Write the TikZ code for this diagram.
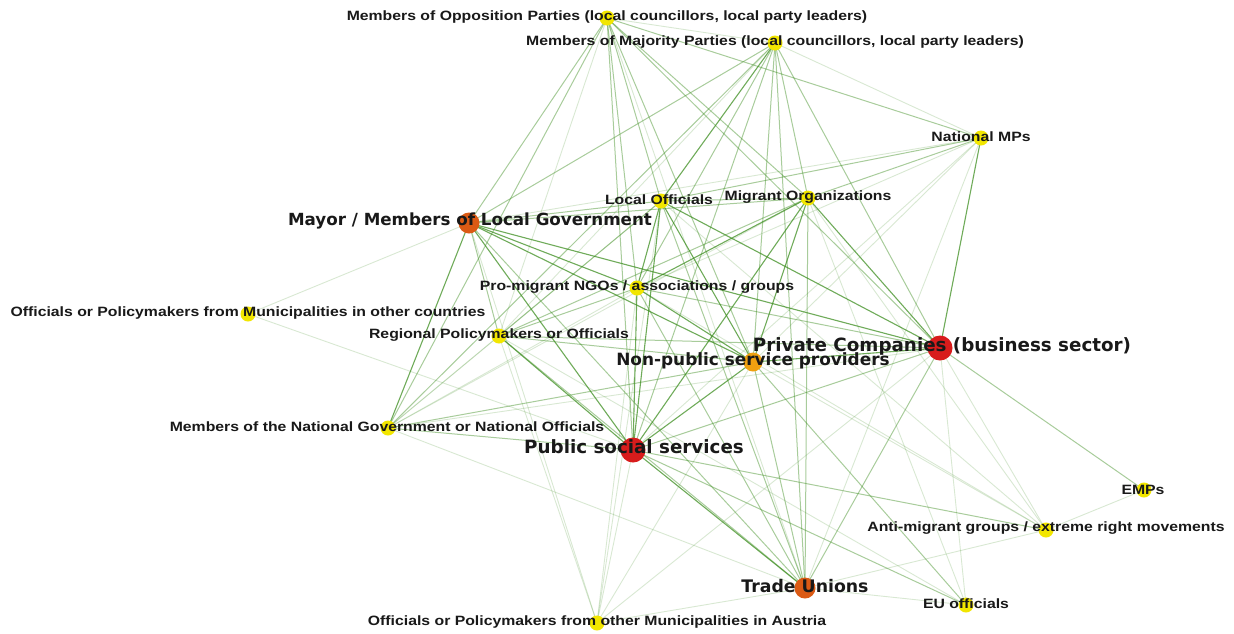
\documentclass[tikz,border=0pt]{standalone}
\usepackage{fontspec}
\newfontfamily\lblfont{Liberation Sans}[FakeStretch=1.17]
\newfontfamily\bigfont{DejaVu Sans}
\usetikzlibrary{backgrounds}
\definecolor{nyellow}{HTML}{F2E600}
\definecolor{norange}{HTML}{DB5A14}
\definecolor{namber}{HTML}{EFA010}
\definecolor{nred}{HTML}{D81C1C}
\definecolor{egreen}{HTML}{3F8F22}
\tikzset{
  vtx/.style={circle,inner sep=0pt,draw=none},
  small/.style={vtx,fill=nyellow,minimum size=15pt},
  mid/.style={vtx,fill=norange,minimum size=21pt},
  amber/.style={vtx,fill=namber,minimum size=19pt},
  large/.style={vtx,fill=nred,minimum size=25pt},
  lbl/.style={inner sep=0pt,text=black!90,font=\lblfont\bfseries\fontsize{13.5}{13.5}\selectfont},
  biglbl/.style={inner sep=0pt,text=black!90,font=\bigfont\bfseries\fontsize{#1}{#1}\selectfont},
  es/.style={draw=egreen,line width=1.1pt,opacity=0.75},
  em/.style={draw=egreen,line width=1pt,opacity=0.45},
  el/.style={draw=egreen,line width=0.9pt,opacity=0.2}
}
\begin{document}
\begin{tikzpicture}[x=1pt,y=-1pt]
\useasboundingbox (0,0) rectangle (1234,633);
% vertices
\node[small] (opp) at (607,18) {};
\node[small] (maj) at (775,43) {};
\node[small] (mps) at (981,138) {};
\node[small] (loc) at (661,201) {};
\node[small] (mig) at (808,198) {};
\node[mid]   (may) at (469,223) {};
\node[small] (ngo) at (637,288) {};
\node[small] (oth) at (248,314) {};
\node[small] (reg) at (499,336) {};
\node[large] (pri) at (940,348) {};
\node[amber] (nps) at (753,362) {};
\node[small] (nat) at (388,428) {};
\node[large] (pub) at (633,450) {};
\node[small] (emp) at (1144,490) {};
\node[small] (ant) at (1046,530) {};
\node[mid]   (tu)  at (805,588) {};
\node[small] (eu)  at (966,605) {};
\node[small] (aus) at (597,623) {};
% connections
\begin{scope}[on background layer]
\fill[white] (0,0) rectangle (1234,633);
\foreach \a/\b/\s in {
 may/opp/em, may/maj/em, may/loc/em, may/mig/em, may/ngo/es, may/reg/em, may/pri/es,
 may/nps/es, may/pub/es, may/nat/es, may/oth/el, may/tu/em, may/aus/el, may/mps/el,
 loc/opp/em, loc/maj/es, loc/mig/em, loc/ngo/es, loc/reg/em, loc/pri/es, loc/nps/es,
 loc/pub/es, loc/tu/em, loc/mps/em, loc/nat/el, loc/aus/el, loc/ant/el,
 mig/opp/em, mig/maj/em, mig/ngo/es, mig/reg/em, mig/pri/es, mig/nps/es, mig/pub/es,
 mig/tu/em, mig/mps/em, mig/nat/el, mig/ant/el, mig/eu/el,
 ngo/opp/em, ngo/maj/em, ngo/reg/em, ngo/pri/em, ngo/nps/es, ngo/pub/es, ngo/tu/em,
 ngo/mps/el, ngo/nat/el, ngo/aus/el, ngo/ant/el,
 reg/opp/el, reg/maj/el, reg/pri/em, reg/nps/em, reg/pub/es, reg/tu/em, reg/nat/el,
 reg/aus/el, reg/eu/el,
 pri/opp/em, pri/maj/em, pri/mps/es, pri/nps/es, pri/pub/em, pri/tu/em, pri/emp/em,
 pri/ant/el, pri/eu/el, pri/nat/el, pri/aus/el,
 nps/opp/em, nps/maj/em, nps/mps/el, nps/pub/es, nps/tu/em, nps/nat/em, nps/ant/el,
 nps/eu/em, nps/aus/el,
 pub/opp/em, pub/maj/em, pub/mps/el, pub/nat/em, pub/tu/es, pub/aus/el, pub/ant/em,
 pub/eu/em, pub/oth/el,
 tu/opp/el, tu/maj/em, tu/nat/el, tu/aus/el, tu/eu/el, tu/ant/el, tu/mps/el,
 opp/maj/el, opp/mps/em, opp/nat/em, maj/mps/el, maj/nat/em, ant/emp/el}
 \draw[\s] (\a.center) -- (\b.center);
\end{scope}
% labels
\node[lbl] (opp-t) at (607,17) {Members of Opposition Parties (local councillors, local party leaders)};
\node[lbl] (maj-t) at (775,42) {Members of Majority Parties (local councillors, local party leaders)};
\node[lbl] (mps-t) at (981,137) {National MPs};
\node[lbl] (loc-t) at (659,200) {Local Officials};
\node[lbl] (mig-t) at (808,197) {Migrant Organizations};
\node[biglbl=16.7] (may-t) at (470,221) {Mayor / Members of Local Government};
\node[lbl] (ngo-t) at (637,287) {Pro-migrant NGOs / associations / groups};
\node[lbl] (oth-t) at (248,313) {Officials or Policymakers from Municipalities in other countries};
\node[lbl] (reg-t) at (499,335) {Regional Policymakers or Officials};
\node[biglbl=18.3] (pri-t) at (942,346) {Private Companies (business sector)};
\node[biglbl=16.9] (nps-t) at (753,361) {Non-public service providers};
\node[lbl] (nat-t) at (387,427) {Members of the National Government or National Officials};
\node[biglbl=18.3] (pub-t) at (634,447) {Public social services};
\node[lbl] (emp-t) at (1143,490) {EMPs};
\node[lbl] (ant-t) at (1046,528) {Anti-migrant groups / extreme right movements};
\node[biglbl=17.3] (tu-t) at (805,586) {Trade Unions};
\node[lbl] (eu-t) at (966,604) {EU officials};
\node[lbl] (aus-t) at (597,622) {Officials or Policymakers from other Municipalities in Austria};
\end{tikzpicture}
\end{document}
